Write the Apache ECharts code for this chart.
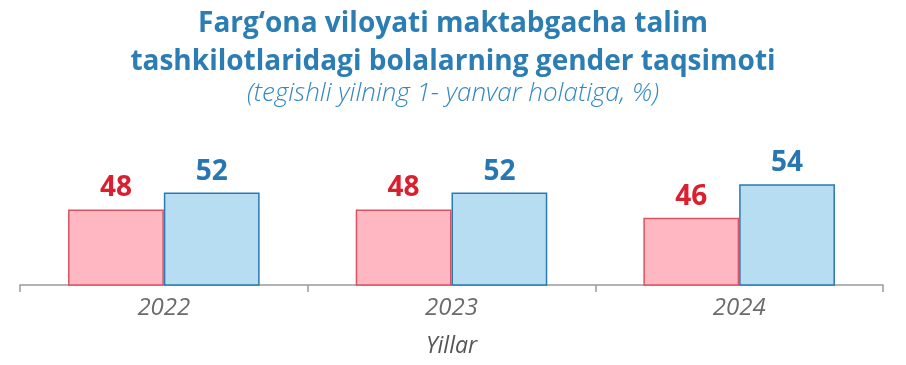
<!DOCTYPE html>
<html><head><meta charset="utf-8">
<script src="https://cdn.jsdelivr.net/npm/echarts@6/dist/echarts.min.js"></script>
<style>html,body{margin:0;padding:0;background:#fff}#c{width:906px;height:365px}</style>
</head><body><div id="c"></div>
<script>
const categories = ['2022', '2023', '2024'];
const girls = [48, 48, 46];
const boys = [52, 52, 54];
const titleText = 'Farg‘ona viloyati maktabgacha talim\ntashkilotlaridagi bolalarning gender taqsimoti';
const subtitleText = '(tegishli yilning 1- yanvar holatiga, %)';
const axisName = 'Yillar';

const chart = echarts.init(document.getElementById('c'), null, {renderer: 'canvas'});
chart.setOption({
  backgroundColor: '#ffffff',
  animation: false,
  title: {
    text: titleText,
    subtext: subtitleText,
    left: 'center',
    top: 0,
    itemGap: 0,
    textStyle: {fontFamily: 'Open Sans', fontWeight: 'bold', fontSize: 28, lineHeight: 38, color: '#2b7db3'},
    subtextStyle: {fontFamily: 'Open Sans', fontStyle: 'italic', fontWeight: 300, fontSize: 26, color: '#3488c2'}
  },
  grid: {left: 20, right: 23, top: 117, bottom: 80},
  xAxis: {
    type: 'category',
    data: categories,
    name: axisName,
    nameLocation: 'middle',
    nameGap: 50,
    nameTextStyle: {fontFamily: 'Open Sans', fontStyle: 'italic', fontSize: 23, color: '#555555'},
    axisLine: {lineStyle: {color: '#9a9a9a', width: 1.5}},
    axisTick: {show: true, length: 7, lineStyle: {color: '#9a9a9a', width: 1.5}},
    axisLabel: {fontFamily: 'Open Sans', fontStyle: 'italic', fontSize: 24, color: '#6b6b6b', margin: 11}
  },
  yAxis: {type: 'value', min: 30, max: 70, show: false, splitLine: {show: false}},
  series: [
    {
      type: 'bar', name: 'Qizlar', data: girls, barWidth: '33.3%', barGap: '0%',
      itemStyle: {color: '#ffb8c1', borderColor: '#d95363', borderWidth: 1.5},
      label: {show: true, position: 'top', distance: 7, fontFamily: 'Open Sans', fontWeight: 'bold', fontSize: 28, color: '#d9202f'}
    },
    {
      type: 'bar', name: 'O‘g‘il bolalar', data: boys, barWidth: '33.3%', barGap: '0%',
      itemStyle: {color: '#b7ddf2', borderColor: '#2a79b1', borderWidth: 1.5},
      label: {show: true, position: 'top', distance: 7, fontFamily: 'Open Sans', fontWeight: 'bold', fontSize: 28, color: '#2877b3'}
    }
  ]
});
</script></body></html>
